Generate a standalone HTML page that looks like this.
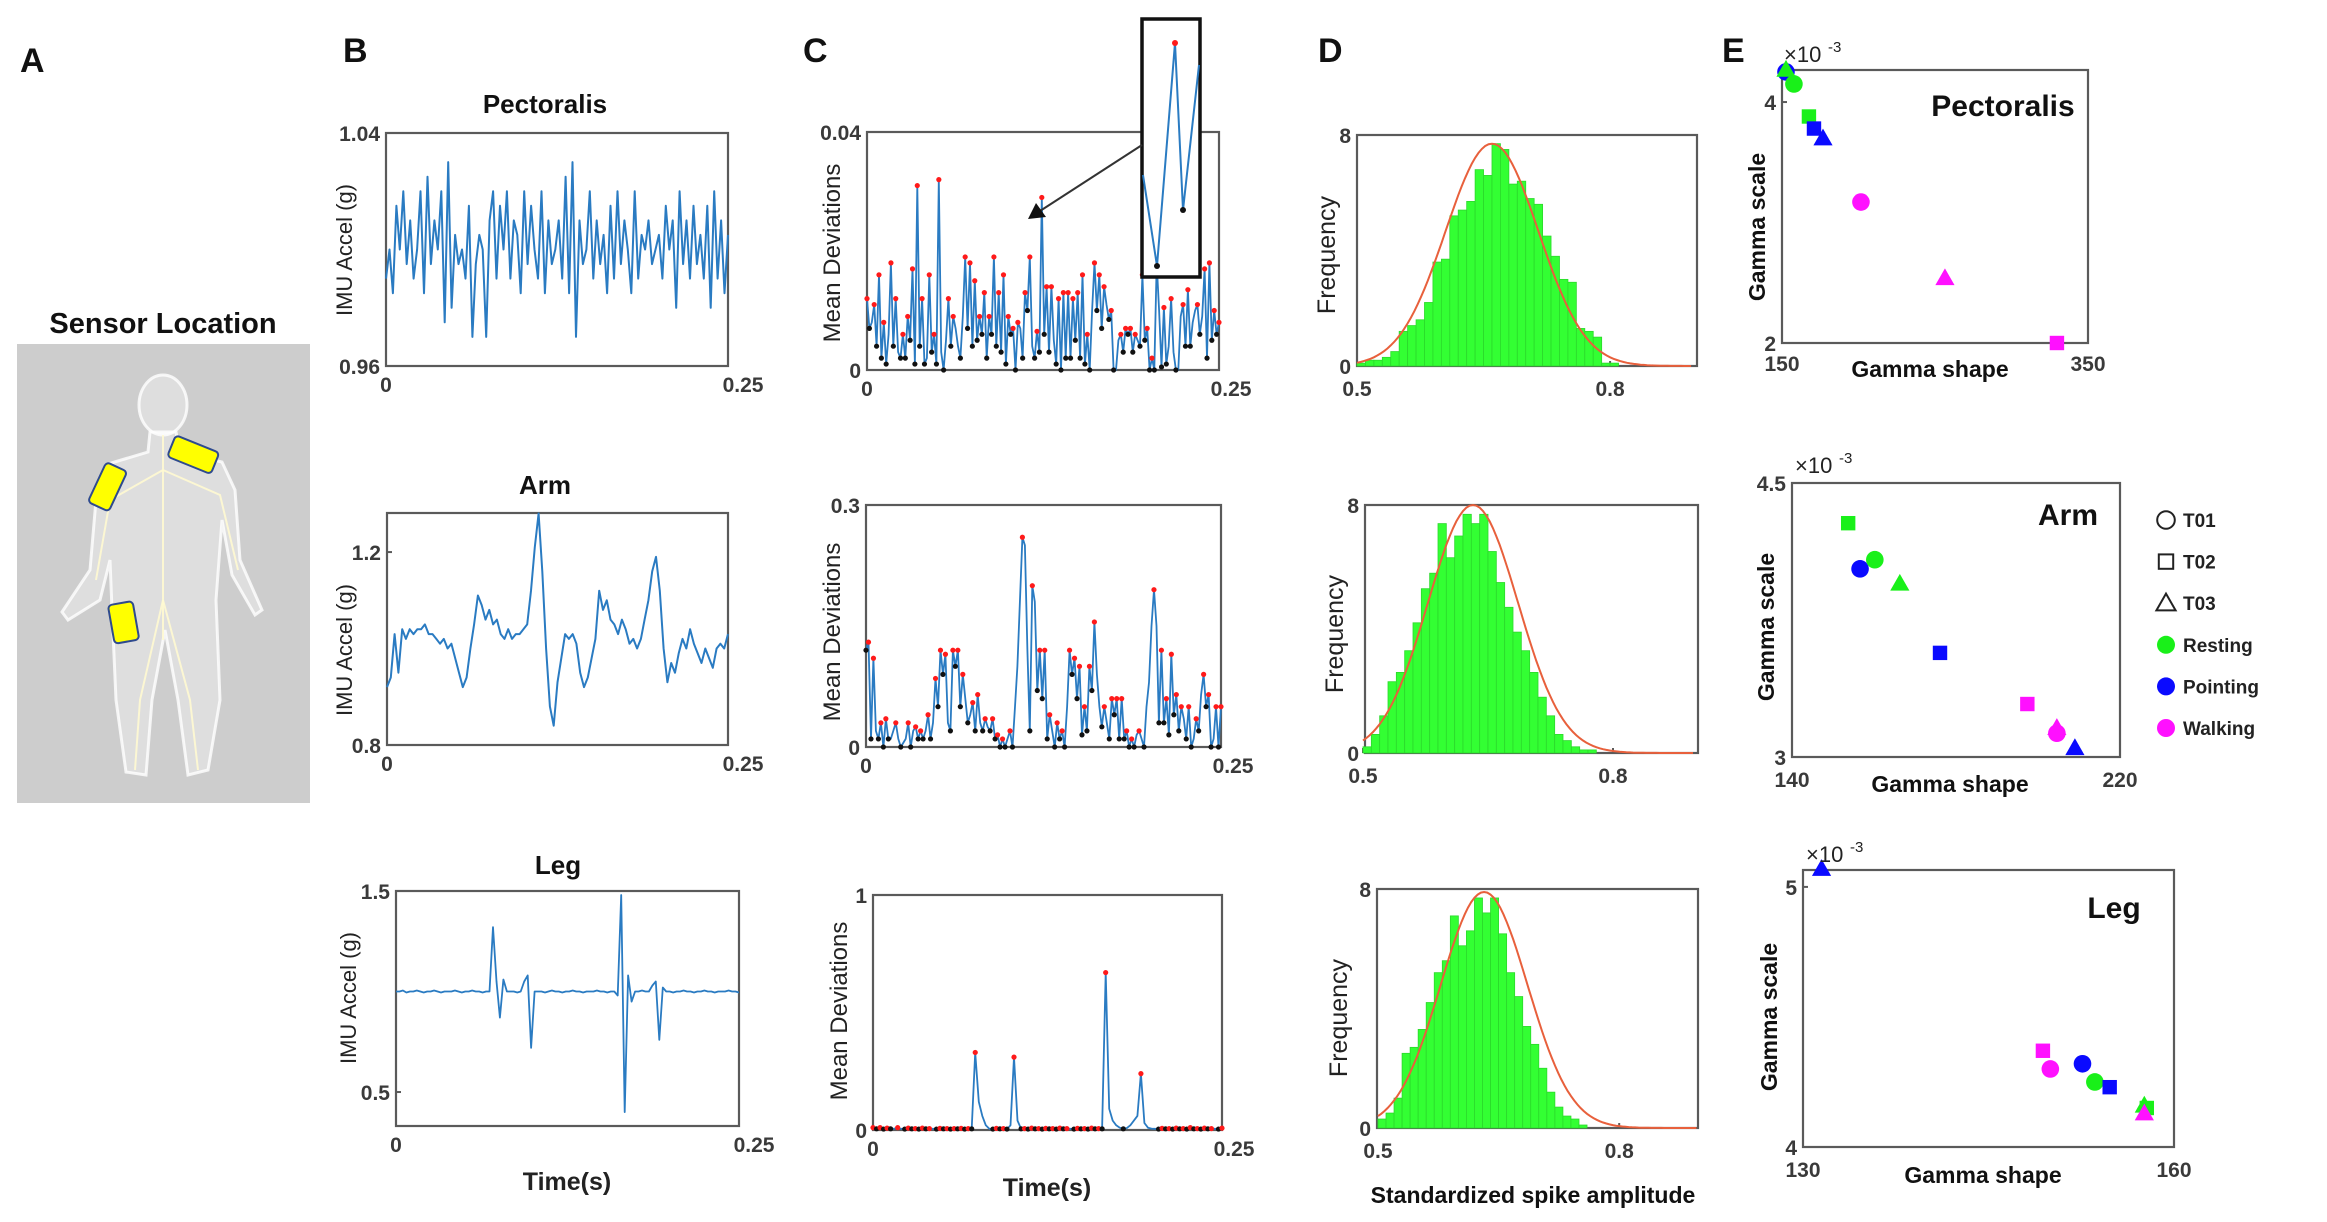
<!DOCTYPE html>
<html><head><meta charset="utf-8">
<style>
html,body{margin:0;padding:0;background:#fff;}
svg{display:block;font-family:"Liberation Sans",sans-serif;}
.tick{font-size:21px;font-weight:bold;fill:#3a3a3a;}
.lbl{font-size:23px;font-weight:bold;fill:#111;}
.narrow{font-family:"Liberation Sans Narrow","Liberation Sans",sans-serif;font-size:22px;fill:#222;}
.panel{font-size:34px;font-weight:bold;fill:#111;}
</style></head>
<body>
<svg id="fig" width="2327" height="1222" viewBox="0 0 2327 1222" xmlns="http://www.w3.org/2000/svg">
  <text class="panel" x="20" y="72">A</text>
  <text x="163" y="333" text-anchor="middle" style="font-size:29px;font-weight:bold;fill:#111">Sensor Location</text>
  <rect x="17" y="344" width="293" height="459" fill="#cdcdcd"/>
  <g fill="rgba(255,255,255,0.35)" stroke="rgba(255,255,255,0.8)" stroke-width="3">
    <ellipse cx="163" cy="405" rx="24" ry="30"/>
    <path d="M150 432 L176 432 L180 452 L222 462 L235 490 L240 560 L262 610 L255 615 L232 575 L222 520 L216 600 L220 700 L208 770 L188 775 L178 700 L165 630 L152 700 L146 775 L126 772 L116 700 L112 610 L110 560 L100 600 L68 620 L62 612 L90 570 L96 500 L108 464 L148 452 Z"/>
  </g>
  <g stroke="rgba(255,250,210,0.9)" stroke-width="2" fill="none">
    <path d="M163 435 L163 640"/><path d="M163 470 L110 500 L96 580"/><path d="M163 470 L220 495 L238 570"/>
    <path d="M163 600 L140 700 L135 770"/><path d="M163 600 L190 700 L198 770"/>
  </g>
  <rect x="170" y="443" width="47" height="23" rx="4" fill="#ffff00" stroke="#2e4a8e" stroke-width="2" transform="rotate(22 193 454)"/>
  <rect x="86" y="475" width="44" height="23" rx="4" fill="#ffff00" stroke="#2e4a8e" stroke-width="2" transform="rotate(-65 108 487)"/>
  <rect x="111" y="603" width="25" height="39" rx="4" fill="#ffff00" stroke="#2e4a8e" stroke-width="2" transform="rotate(-10 123 622)"/>

  <text class="panel" x="343" y="62">B</text>
  <text class="panel" x="803" y="62">C</text>
  <text class="panel" x="1318" y="62">D</text>
  <text class="panel" x="1722" y="62">E</text>

  <g id="plots"></g>
</svg>
<script>
const bTime = [0, 0.25];
const bPectValues = [0.99,1.0,0.985,1.015,1.0,1.02,0.995,1.01,0.99,1.0,1.02,0.985,1.025,0.995,1.01,1.0,1.02,0.975,1.03,0.98,1.005,0.995,1.0,0.99,1.015,0.97,0.995,1.005,1.0,0.97,1.01,1.02,0.99,1.015,1.0,1.02,0.99,1.01,1.005,0.985,1.02,0.995,1.015,1.0,0.99,1.02,0.985,1.01,0.995,1.0,1.01,0.99,1.025,0.985,1.03,0.97,1.01,0.995,1.0,1.02,0.99,1.01,0.995,1.005,0.985,1.015,0.99,1.02,0.995,1.01,1.0,0.985,1.02,0.99,1.005,1.0,1.01,0.995,1.0,1.005,0.99,1.015,1.0,1.01,0.98,1.02,0.995,1.01,0.99,1.015,0.995,1.005,0.99,1.015,0.98,1.02,0.99,1.01,0.985,1.005];
const bArmValues = [0.92,0.94,1.03,0.95,1.04,1.02,1.04,1.03,1.04,1.04,1.05,1.03,1.03,1.02,1.01,1.02,1.0,1.01,0.98,0.95,0.92,0.94,1.0,1.05,1.11,1.09,1.06,1.08,1.05,1.06,1.03,1.02,1.04,1.02,1.03,1.03,1.04,1.05,1.12,1.21,1.28,1.16,1.0,0.88,0.84,0.93,0.98,1.03,1.02,1.03,1.01,0.95,0.92,0.94,0.98,1.02,1.12,1.08,1.1,1.06,1.05,1.03,1.06,1.04,1.01,1.02,1.0,1.02,1.06,1.1,1.16,1.19,1.12,1.0,0.93,0.97,0.95,0.99,1.02,1.0,1.04,1.01,0.99,0.97,1.0,0.98,0.96,1.0,1.01,1.0,1.03];
const bLegValues = [1.0,1.0,1.005,0.995,1.0,1.0,1.005,1.0,0.995,1.0,1.0,1.005,1.0,0.995,1.0,1.0,1.0,1.005,1.0,0.995,1.0,1.0,1.005,1.0,1.0,0.995,1.0,1.0,1.32,1.05,0.87,1.06,1.0,1.0,1.0,0.995,1.0,1.05,1.08,0.72,1.0,1.0,1.0,0.995,1.0,1.005,1.0,1.0,0.995,1.0,1.0,1.005,1.0,1.0,0.995,1.0,1.0,1.0,1.005,1.0,1.0,0.995,1.0,1.0,0.98,1.48,0.4,1.08,0.95,1.0,1.0,1.005,1.0,1.0,1.03,1.05,0.76,1.02,1.0,1.0,0.995,1.0,1.0,1.005,1.0,1.0,0.995,1.0,1.0,1.005,1.0,1.0,0.995,1.0,1.0,1.0,1.005,1.0,1.0,0.995];
const cPectValues = [0.012,0.007,0.008,0.011,0.004,0.016,0.002,0.008,0.001,0.006,0.018,0.004,0.012,0.003,0.002,0.006,0.002,0.009,0.005,0.017,0.001,0.031,0.004,0.012,0.001,0.002,0.016,0.003,0.006,0.001,0.032,0.003,0.0,0.005,0.012,0.004,0.009,0.007,0.004,0.002,0.009,0.019,0.007,0.018,0.004,0.015,0.005,0.009,0.006,0.013,0.002,0.009,0.006,0.019,0.004,0.013,0.003,0.016,0.001,0.009,0.006,0.007,0.0,0.008,0.007,0.002,0.013,0.01,0.019,0.004,0.002,0.0065,0.003,0.029,0.006,0.014,0.003,0.014,0.005,0.001,0.012,0.0,0.013,0.002,0.013,0.002,0.012,0.005,0.013,0.002,0.016,0.001,0.006,0.0,0.01,0.018,0.01,0.016,0.007,0.014,0.011,0.0085,0.01,0.0,0.0,0.005,0.006,0.003,0.007,0.006,0.007,0.003,0.006,0.005,0.004,0.016,0.005,0.007,0.0,0.002,0.0,0.018,0.01,0.0005,0.0105,0.001,0.004,0.012,0.003,0.0,0.0,0.009,0.011,0.004,0.0135,0.004,0.008,0.01,0.011,0.006,0.009,0.017,0.002,0.018,0.005,0.01,0.006,0.008];
const cArmValues = [0.12,0.13,0.01,0.11,0.02,0.01,0.03,0.0,0.035,0.01,0.01,0.02,0.03,0.01,0.0,0.005,0.01,0.03,0.0,0.02,0.025,0.01,0.02,0.01,0.02,0.04,0.01,0.03,0.085,0.05,0.12,0.09,0.115,0.03,0.02,0.12,0.1,0.12,0.05,0.09,0.06,0.03,0.04,0.055,0.02,0.065,0.03,0.02,0.035,0.025,0.02,0.035,0.01,0.015,0.0,0.01,0.0,0.01,0.02,0.0,0.05,0.1,0.18,0.26,0.25,0.12,0.02,0.2,0.18,0.07,0.12,0.06,0.12,0.01,0.04,0.02,0.0,0.03,0.01,0.02,0.0,0.05,0.12,0.09,0.11,0.06,0.1,0.015,0.05,0.02,0.1,0.07,0.155,0.09,0.05,0.025,0.05,0.03,0.01,0.06,0.04,0.06,0.01,0.06,0.01,0.02,0.0,0.01,0.0,0.015,0.02,0.01,0.0,0.05,0.08,0.15,0.195,0.15,0.03,0.12,0.03,0.06,0.015,0.115,0.04,0.065,0.02,0.05,0.035,0.01,0.05,0.0,0.01,0.035,0.02,0.065,0.09,0.05,0.065,0.0,0.01,0.05,0.0,0.05];
const cLegValues = [0.01,0.005,0.01,0.004,0.008,0.005,0.006,0.01,0.005,0.004,0.008,0.005,0.006,0.004,0.008,0.005,0.006,0.005,0.004,0.007,0.005,0.006,0.004,0.006,0.005,0.007,0.004,0.006,0.005,0.33,0.12,0.06,0.02,0.005,0.004,0.007,0.005,0.006,0.004,0.02,0.31,0.04,0.005,0.006,0.004,0.008,0.005,0.006,0.004,0.007,0.005,0.006,0.004,0.008,0.005,0.006,0.005,0.004,0.007,0.005,0.006,0.004,0.008,0.005,0.006,0.005,0.67,0.09,0.04,0.02,0.01,0.005,0.008,0.02,0.04,0.06,0.24,0.03,0.01,0.006,0.005,0.004,0.007,0.005,0.006,0.004,0.008,0.005,0.006,0.004,0.01,0.005,0.006,0.004,0.008,0.005,0.006,0.005,0.004,0.008];
const histBinStart = 0.5;
const histBinWidth = 0.01;
const dPectCounts = [0.1,0.2,0.2,0.3,0.5,1.2,1.4,1.6,2.2,3.6,3.7,5.2,5.4,5.7,6.8,6.6,7.7,7.5,6.3,6.4,5.8,5.6,4.5,3.8,3.0,2.9,1.3,1.2,1.0,0.1,0.1];
const dArmCounts = [0.2,0.6,1.2,2.3,2.6,3.3,4.2,5.3,5.8,7.4,6.3,7.0,7.7,7.4,7.7,6.5,5.5,4.7,3.9,3.3,2.6,1.8,1.2,0.6,0.4,0.2,0.1,0.1];
const dLegCounts = [0.3,0.5,1.0,2.5,2.7,3.3,4.2,5.2,5.6,7.1,6.1,6.6,7.7,7.2,7.7,6.5,5.2,4.4,3.4,2.8,2.0,1.2,0.7,0.4,0.3,0.1];
const fitMeans = [0.66, 0.632, 0.632];
const fitSds = [0.055, 0.054, 0.054];
const fitPeaks = [7.7, 8.0, 7.9];
const eActivities = ["Pointing","Resting","Resting","Resting","Pointing","Pointing","Walking","Walking","Walking"];
const eTrials = ["T01","T03","T01","T02","T02","T03","T01","T03","T02"];
const ePectShape = [152.6,152.6,157.8,167.6,170.9,176.8,201.6,256.5,329.7];
const ePectScale = [4.25,4.27,4.15,3.88,3.78,3.70,3.17,2.54,2.0];
const eArmShape = [156.6,166.3,160.2,153.7,176.1,209.0,204.6,204.6,197.4];
const eArmScale = [4.03,3.95,4.08,4.28,3.57,3.05,3.13,3.16,3.29];
const eLegShape = [152.6,157.6,153.6,157.8,154.8,131.5,150.0,157.6,149.4];
const eLegScale = [4.32,4.16,4.25,4.15,4.23,5.07,4.30,4.13,4.37];
const legendLabels = ["T01","T02","T03","Resting","Pointing","Walking"];

const NS = "http://www.w3.org/2000/svg";
const root = document.getElementById('plots');
const activityColor = {Resting:"#19f019", Pointing:"#0a0aff", Walking:"#ff10ff"};
function mk(tag, attrs, parent){
  const e = document.createElementNS(NS, tag);
  for (const k in attrs) e.setAttribute(k, attrs[k]);
  (parent||root).appendChild(e);
  return e;
}
function scale(d0,d1,r0,r1){ return v => r0 + (v-d0)/(d1-d0)*(r1-r0); }
function axes(p, name){
  const g = mk('g', {});
  
  
  const sx = scale(p.xd[0],p.xd[1],p.x0,p.x1);
  const sy = scale(p.yd[0],p.yd[1],p.y1,p.y0);
  const box = mk('rect', {x:p.x0,y:p.y0,width:p.x1-p.x0,height:p.y1-p.y0,fill:'none',stroke:'#5a5a5a','stroke-width':2.2}, g);
  
  
  p.xt.forEach((t,i)=>{
    const x = sx(t);
    mk('line',{x1:x,x2:x,y1:p.y1,y2:p.y1-5,stroke:'#5a5a5a','stroke-width':2},g);
    const tx = mk('text',{x:x+(p.xoff?p.xoff[i]:0),y:p.y1+(p.xdy||26),'text-anchor':'middle','class':'tick'},g);
    tx.textContent = p.xl[i];
    
    
  });
  p.yt.forEach((t,i)=>{
    const y = sy(t);
    mk('line',{x1:p.x0,x2:p.x0+5,y1:y,y2:y,stroke:'#5a5a5a','stroke-width':2},g);
    const ty = mk('text',{x:p.x0-6,y:y+8,'text-anchor':'end','class':'tick'},g);
    ty.textContent = p.yl[i];
    
    
  });
  return {g,sx,sy};
}
function ylabel(text, x, y, cls, name, size){
  const t = mk('text',{x:x,y:y,'text-anchor':'middle','class':cls,transform:`rotate(-90 ${x} ${y})`});
  if (size) t.setAttribute('style','font-size:'+size+'px');
  t.textContent = text;
  
  
}
function label(text, x, y, style, name){
  const t = mk('text',{x:x,y:y,'text-anchor':'middle',style:style});
  t.textContent = text;
  
  
}
function series(ax, values, name, color, width){
  const n = values.length;
  const pts = values.map((v,i)=> ax.sx(bTime[0] + i/(n-1)*(bTime[1]-bTime[0])).toFixed(1)+','+ax.sy(v).toFixed(1)).join(' ');
  const pl = mk('polyline',{points:pts,fill:'none',stroke:color,'stroke-width':width,'stroke-linejoin':'round'},ax.g);
  
  
}
function extrema(ax, values, name){
  const n = values.length;
  values.forEach((v,i)=>{
    const prev = i>0?values[i-1]:-Infinity, next = i<n-1?values[i+1]:-Infinity;
    const prevL = i>0?values[i-1]:Infinity, nextL = i<n-1?values[i+1]:Infinity;
    const x = ax.sx(bTime[0] + i/(n-1)*(bTime[1]-bTime[0])), y = ax.sy(v);
    if (v>prev && v>=next){
      const c = mk('circle',{cx:x,cy:y,r:2.6,fill:'#ff1a1a'},ax.g);
      
      
    } else if (v<prevL && v<=nextL){
      const c = mk('circle',{cx:x,cy:y,r:2.6,fill:'#111'},ax.g);
      
      
    }
  });
}
function hist(ax, counts, idx, name){
  counts.forEach((c,i)=>{
    const xa = ax.sx(histBinStart + i*histBinWidth), xb = ax.sx(histBinStart + (i+1)*histBinWidth);
    const r = mk('rect',{x:xa,y:ax.sy(c),width:xb-xa,height:ax.sy(0)-ax.sy(c),fill:'#33ff33',stroke:'#2bd92b','stroke-width':0.8},ax.g);
    
    
  });
  const pts = [];
  for (let x=0.5; x<=0.9; x+=0.004){
    const y = fitPeaks[idx]*Math.exp(-0.5*Math.pow((x-fitMeans[idx])/fitSds[idx],2));
    pts.push(ax.sx(x).toFixed(1)+','+ax.sy(y).toFixed(1));
  }
  const pl = mk('polyline',{points:pts.join(' '),fill:'none',stroke:'#e8603c','stroke-width':2},ax.g);
  
  
}
function marker(g, shape, color, x, y, s, hollow, name){
  let e;
  const st = hollow ? {fill:'none',stroke:'#222','stroke-width':2} : {fill:color};
  if (shape==='T01') e = mk('circle',Object.assign({cx:x,cy:y,r:s*0.55},st),g);
  else if (shape==='T02') e = mk('rect',Object.assign({x:x-s*0.45,y:y-s*0.45,width:s*0.9,height:s*0.9},st),g);
  else e = mk('polygon',Object.assign({points:`${x},${y-s*0.6} ${x-s*0.6},${y+s*0.45} ${x+s*0.6},${y+s*0.45}`},st),g);
  
  
}
function scatter(ax, shapes, scales, name){
  shapes.forEach((sh,i)=>{
    marker(ax.g, eTrials[i], activityColor[eActivities[i]], ax.sx(sh), ax.sy(scales[i]), 16, false, name+'-point');
  });
}

const bP = axes({x0:386,x1:728,y0:133,y1:366,xd:[0,0.25],yd:[0.96,1.04],xt:[0,0.25],xl:['0','0.25'],yt:[0.96,1.04],yl:['0.96','1.04'],xoff:[0,15]}, 'b-pectoralis-plot');
series(bP, bPectValues, 'b-pectoralis-signal', '#2a7bc2', 2);
label('Pectoralis', 545, 113, 'font-size:26px;font-weight:bold;fill:#111', 'b-pectoralis-title');
ylabel('IMU Accel (g)', 352, 250, 'narrow', 'b-pectoralis-y-label');

const bA = axes({x0:387,x1:728,y0:513,y1:745,xd:[0,0.25],yd:[0.8,1.281],xt:[0,0.25],xl:['0','0.25'],yt:[0.8,1.2],yl:['0.8','1.2'],xoff:[0,15]}, 'b-arm-plot');
series(bA, bArmValues, 'b-arm-signal', '#2a7bc2', 2);
label('Arm', 545, 494, 'font-size:26px;font-weight:bold;fill:#111', 'b-arm-title');
ylabel('IMU Accel (g)', 352, 650, 'narrow', 'b-arm-y-label');

const bL = axes({x0:396,x1:739,y0:891,y1:1126,xd:[0,0.25],yd:[0.331,1.5],xt:[0,0.25],xl:['0','0.25'],yt:[0.5,1.5],yl:['0.5','1.5'],xoff:[0,15]}, 'b-leg-plot');
series(bL, bLegValues, 'b-leg-signal', '#2a7bc2', 1.8);
label('Leg', 558, 874, 'font-size:26px;font-weight:bold;fill:#111', 'b-leg-title');
ylabel('IMU Accel (g)', 356, 998, 'narrow', 'b-leg-y-label');
label('Time(s)', 567, 1190, 'font-size:25px;font-weight:bold;fill:#222', 'b-x-axis-title');

const cP = axes({x0:867,x1:1219,y0:132,y1:370,xd:[0,0.25],yd:[0,0.04],xt:[0,0.25],xl:['0','0.25'],yt:[0,0.04],yl:['0','0.04'],xoff:[0,12]}, 'c-pectoralis-plot');
series(cP, cPectValues, 'c-pectoralis-deviation', '#2a7bc2', 1.8);
extrema(cP, cPectValues, 'c-pectoralis');
ylabel('Mean Deviations', 840, 253, 'narrow', 'c-pectoralis-y-label', 24);
const inset = mk('rect',{x:1142,y:19,width:58,height:258,fill:'#fff',stroke:'#111','stroke-width':3.5});


mk('polyline',{points:'1143,175 1157,266 1175,43 1183,210 1199,65',fill:'none',stroke:'#2a7bc2','stroke-width':2});
mk('circle',{cx:1157,cy:266,r:3,fill:'#111'});
mk('circle',{cx:1175,cy:43,r:3,fill:'#ff1a1a'});
mk('circle',{cx:1183,cy:210,r:3,fill:'#111'});
const arrow = mk('line',{x1:1142,y1:145,x2:1040,y2:211,stroke:'#333','stroke-width':2});


mk('polygon',{points:'1028,219 1036,203 1046,217',fill:'#111'});

const cA = axes({x0:866,x1:1221,y0:505,y1:747,xd:[0,0.25],yd:[0,0.3],xt:[0,0.25],xl:['0','0.25'],yt:[0,0.3],yl:['0','0.3'],xoff:[0,12]}, 'c-arm-plot');
series(cA, cArmValues, 'c-arm-deviation', '#2a7bc2', 1.8);
extrema(cA, cArmValues, 'c-arm');
ylabel('Mean Deviations', 840, 632, 'narrow', 'c-arm-y-label', 24);

const cL = axes({x0:873,x1:1222,y0:895,y1:1130,xd:[0,0.25],yd:[0,1],xt:[0,0.25],xl:['0','0.25'],yt:[0,1],yl:['0','1'],xoff:[0,12]}, 'c-leg-plot');
series(cL, cLegValues, 'c-leg-deviation', '#2a7bc2', 1.8);
extrema(cL, cLegValues, 'c-leg');
ylabel('Mean Deviations', 847, 1011, 'narrow', 'c-leg-y-label', 24);
label('Time(s)', 1047, 1196, 'font-size:25px;font-weight:bold;fill:#222', 'c-x-axis-title');

const dP = axes({x0:1357,x1:1697,y0:135,y1:366,xd:[0.5,0.903],yd:[0,8],xt:[0.5,0.8],xl:['0.5','0.8'],yt:[0,8],yl:['0','8'],xdy:30}, 'd-pectoralis-plot');
hist(dP, dPectCounts, 0, 'd-pectoralis');
ylabel('Frequency', 1335, 255, 'narrow', 'd-pectoralis-y-label', 25);

const dA = axes({x0:1365,x1:1698,y0:505,y1:753,xd:[0.5024,0.902],yd:[0,8],xt:[0.5,0.8],xl:['0.5','0.8'],yt:[0,8],yl:['0','8'],xdy:30}, 'd-arm-plot');
hist(dA, dArmCounts, 1, 'd-arm');
ylabel('Frequency', 1343, 634, 'narrow', 'd-arm-y-label', 25);

const dL = axes({x0:1377,x1:1698,y0:889,y1:1128,xd:[0.4988,0.898],yd:[0,8],xt:[0.5,0.8],xl:['0.5','0.8'],yt:[0,8],yl:['0','8'],xdy:30}, 'd-leg-plot');
hist(dL, dLegCounts, 2, 'd-leg');
ylabel('Frequency', 1347, 1018, 'narrow', 'd-leg-y-label', 25);
label('Standardized spike amplitude', 1533, 1203, 'font-size:23px;font-weight:bold;fill:#111', 'd-x-axis-title');

function eAxes(p, name, title, tx, ty, ylx, yly, xlx, xly, exX, exY){
  const ax = axes(p, name);
  label(title, tx, ty, 'font-size:30px;font-weight:bold;fill:#111', name+'-title');
  ylabel('Gamma scale', ylx, yly, 'lbl', name+'-y-label');
  label('Gamma shape', xlx, xly, 'font-size:23px;font-weight:bold;fill:#111', name+'-x-label');
  const ex = mk('text',{x:exX,y:exY,style:'font-size:22px;fill:#222'});
  ex.textContent = '×10';
  
  
  const sup = mk('text',{x:exX+44,y:exY-10,style:'font-size:15px;fill:#222'});
  sup.textContent = '-3';
  
  
  return ax;
}
const eP = eAxes({x0:1782,x1:2088,y0:70,y1:343,xd:[150,350],yd:[2,4.266],xt:[150,350],xl:['150','350'],yt:[2,4],yl:['2','4'],xdy:28}, 'e-pectoralis-plot','Pectoralis',2003,116,1765,227,1930,377,1784,62);
scatter(eP, ePectShape, ePectScale, 'e-pectoralis');
const eA = eAxes({x0:1792,x1:2120,y0:483,y1:757,xd:[140,220],yd:[3,4.5],xt:[140,220],xl:['140','220'],yt:[3,4.5],yl:['3','4.5'],xdy:30}, 'e-arm-plot','Arm',2068,525,1774,627,1950,792,1795,473);
scatter(eA, eArmShape, eArmScale, 'e-arm');
const eL = eAxes({x0:1803,x1:2174,y0:870,y1:1147,xd:[130,160],yd:[4,5.065],xt:[130,160],xl:['130','160'],yt:[4,5],yl:['4','5'],xdy:30}, 'e-leg-plot','Leg',2114,918,1777,1017,1983,1183,1806,862);
scatter(eL, eLegShape, eLegScale, 'e-leg');

const lg = mk('g',{});


legendLabels.forEach((lab,i)=>{
  const y = 520 + i*41.6;
  if (i<3) marker(lg, lab, '#000', 2166, y, 16, true, 'legend-marker-'+lab.toLowerCase());
  else {
    const c = mk('circle',{cx:2166,cy:y,r:9,fill:activityColor[lab]},lg);
    
    
  }
  const t = mk('text',{x:2183,y:y+7,style:'font-size:19px;font-weight:bold;fill:#222'},lg);
  t.textContent = lab;
  
  
});
</script>
</body></html>
